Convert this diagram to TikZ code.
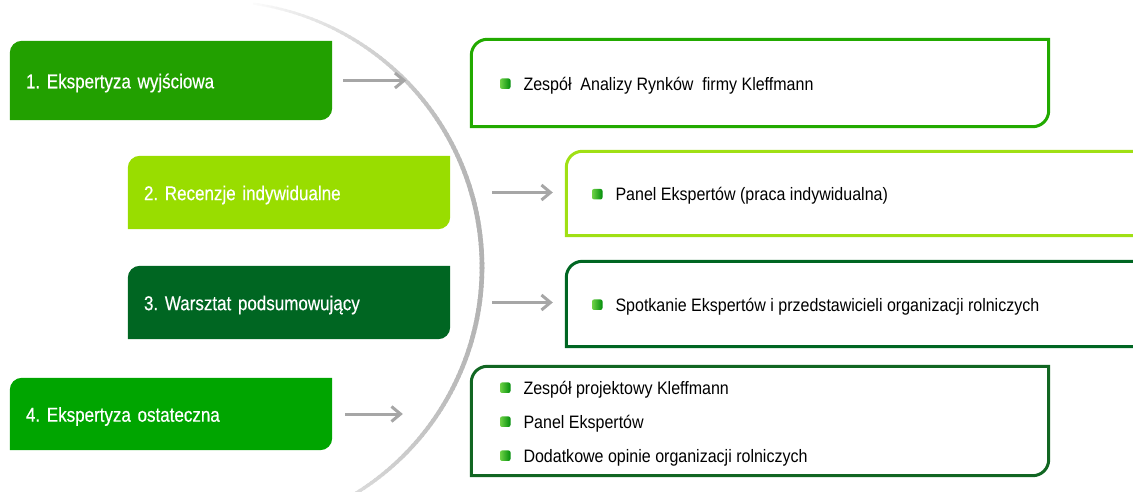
\documentclass[tikz,border=0pt]{standalone}
\usepackage{fontspec}
\setmainfont{Liberation Sans}[FakeStretch=0.89]
\newfontfamily\lfont{Liberation Sans}[FakeStretch=0.85,FakeBold=0.4]
\usetikzlibrary{arrows.meta}
\frenchspacing
\definecolor{cOne}{RGB}{34,160,0}
\definecolor{cTwo}{RGB}{153,221,0}
\definecolor{cThree}{RGB}{0,102,34}
\definecolor{cFour}{RGB}{0,165,0}
\definecolor{rA}{RGB}{34,170,0}
\definecolor{rB}{RGB}{160,224,20}
\definecolor{rC}{RGB}{0,102,34}
\definecolor{rD}{RGB}{17,102,34}
\definecolor{arrgray}{RGB}{166,166,166}
\definecolor{bulL}{RGB}{110,210,70}
\definecolor{bulR}{RGB}{0,140,10}
\newcommand\leafbox[3]{%
  \path[#3] (#1.south west) -- ([yshift=-#2]#1.north west)
    arc[start angle=180,end angle=90,radius=#2] -- (#1.north east)
    -- ([yshift=#2]#1.south east)
    arc[start angle=0,end angle=-90,radius=#2] -- cycle;}
\newcommand\blt{\tikz[baseline=0pt]\shade[left color=bulL,right color=bulR,rounded corners=2pt] (0pt,1.3pt) rectangle (10.5pt,11.8pt);\hspace{13pt}}
\begin{document}
\begin{tikzpicture}[x=1pt,y=1pt,
  shapebox/.style={rectangle,inner sep=0pt,minimum width=#1},
  ltxt/.style={anchor=west,inner xsep=16pt,inner ysep=0pt,yshift=-2.5pt,text width=290pt,align=left,text=white,font=\lfont\fontsize{20}{22}\selectfont},
  rtxt/.style={anchor=west,inner xsep=#1,inner ysep=0pt,yshift=-2.5pt,align=left,text=black,font=\fontsize{18}{34}\selectfont},
  arr/.style={draw=arrgray,line width=3pt,-{Straight Barb[length=9pt,width=15pt]}}]
\useasboundingbox (0,0) rectangle (1133,491);
% gradient arc
\coordinate (C) at (216,224);
\foreach \a in {82,81,...,-66}{%
  \pgfmathsetmacro\q{1-((\a-2)/82)^2}%
  \pgfmathsetmacro\k{30*\q}%
  \pgfmathsetmacro\w{2+2.6*\q}%
  \draw[draw=black!\k,line width=\w pt] ([shift={(\a:266pt)}]C) arc[start angle=\a,end angle=\a-1.4,radius=266pt];
}
% left boxes
\node[shapebox=322pt,minimum height=79pt] (b1) at (171,410.5) {};
\node[shapebox=322pt,minimum height=73pt] (b2) at (289,298.5) {};
\node[shapebox=322pt,minimum height=73pt] (b3) at (289,188.5) {};
\node[shapebox=322pt,minimum height=72pt] (b4) at (171,77) {};
\leafbox{b1}{12pt}{fill=cOne}
\leafbox{b2}{12pt}{fill=cTwo}
\leafbox{b3}{12pt}{fill=cThree}
\leafbox{b4}{12pt}{fill=cFour}
\node[ltxt] (t1) at (b1.west) {1. Ekspertyza wyjściowa};
\node[ltxt] (t2) at (b2.west) {2. Recenzje indywidualne};
\node[ltxt] (t3) at (b3.west) {3. Warsztat podsumowujący};
\node[ltxt] (t4) at (b4.west) {4. Ekspertyza ostateczna};
% right boxes
\node[shapebox=577pt,minimum height=87pt] (A) at (760,408) {};
\node[shapebox=593pt,minimum height=84pt] (B) at (863,297.5) {};
\node[shapebox=593pt,minimum height=85pt] (Cb) at (863,187) {};
\node[shapebox=577pt,minimum height=109pt] (D) at (760,70) {};
\leafbox{A}{16pt}{draw=rA,line width=3pt}
\leafbox{B}{16pt}{draw=rB,line width=3pt}
\leafbox{Cb}{16pt}{draw=rC,line width=3pt}
\leafbox{D}{16pt}{draw=rD,line width=3pt}
\node[rtxt=28.5pt] (tA) at (A.west) {\blt Zespół\ \ Analizy Rynków\ \ firmy Kleffmann};
\node[rtxt=25.5pt] (tB) at (B.west) {\blt Panel Ekspertów (praca indywidualna)};
\node[rtxt=25.5pt] (tC) at (Cb.west) {\blt Spotkanie Ekspertów i przedstawicieli organizacji rolniczych};
\node[rtxt=28.5pt] (tD) at (D.west) {\blt Zespół projektowy Kleffmann\\\blt Panel Ekspertów\\\blt Dodatkowe opinie organizacji rolniczych};
% arrows
\draw[arr,shorten <=11pt,shorten >=65pt] (b1.east) -- (b1.east -| A.west);
\draw[arr,shorten <=42pt,shorten >=13.5pt] (b2.east) -- (b2.east -| B.west);
\draw[arr,shorten <=42pt,shorten >=13.5pt] (b3.east) -- (b3.east -| Cb.west);
\draw[arr,shorten <=13pt,shorten >=68.5pt] (b4.east) -- (b4.east -| D.west);
\end{tikzpicture}
\end{document}
